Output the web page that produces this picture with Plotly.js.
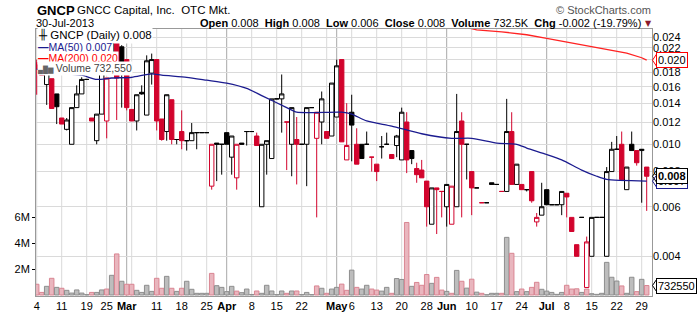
<!DOCTYPE html>
<html><head><meta charset="utf-8">
<script src="https://cdn.plot.ly/plotly-3.0.1.min.js"></script>
<style>html,body{margin:0;padding:0;background:#fff}#chart{width:700px;height:312px}</style>
</head><body><div id="chart"></div>
<script>
const dates = [
'2013-02-04','2013-02-05','2013-02-06','2013-02-07','2013-02-08','2013-02-11','2013-02-12','2013-02-13','2013-02-14','2013-02-15',
'2013-02-19','2013-02-20','2013-02-21','2013-02-22','2013-02-25','2013-02-26','2013-02-27','2013-02-28','2013-03-01','2013-03-04',
'2013-03-05','2013-03-06','2013-03-07','2013-03-08','2013-03-11','2013-03-12','2013-03-13','2013-03-14','2013-03-15','2013-03-18',
'2013-03-19','2013-03-20','2013-03-21','2013-03-22','2013-03-25','2013-03-26','2013-03-27','2013-03-28','2013-04-01','2013-04-02',
'2013-04-03','2013-04-04','2013-04-05','2013-04-08','2013-04-09','2013-04-10','2013-04-11','2013-04-12','2013-04-15','2013-04-16',
'2013-04-17','2013-04-18','2013-04-19','2013-04-22','2013-04-23','2013-04-24','2013-04-25','2013-04-26','2013-04-29','2013-04-30',
'2013-05-01','2013-05-02','2013-05-03','2013-05-06','2013-05-07','2013-05-08','2013-05-09','2013-05-10','2013-05-13','2013-05-14',
'2013-05-15','2013-05-16','2013-05-17','2013-05-20','2013-05-21','2013-05-22','2013-05-23','2013-05-24','2013-05-28','2013-05-29',
'2013-05-30','2013-05-31','2013-06-03','2013-06-04','2013-06-05','2013-06-06','2013-06-07','2013-06-10','2013-06-11','2013-06-12',
'2013-06-13','2013-06-14','2013-06-17','2013-06-18','2013-06-19','2013-06-20','2013-06-21','2013-06-24','2013-06-25','2013-06-26',
'2013-06-27','2013-06-28','2013-07-01','2013-07-02','2013-07-03','2013-07-05','2013-07-08','2013-07-09','2013-07-10','2013-07-11',
'2013-07-12','2013-07-15','2013-07-16','2013-07-17','2013-07-18','2013-07-19','2013-07-22','2013-07-23','2013-07-24','2013-07-25',
'2013-07-26','2013-07-29','2013-07-30'];

const priorClose = 0.0200;

const open = [
0.0195,0.0184,0.0163,0.0171,0.0151,0.0124,0.0113,0.0100,0.0135,0.0151,
0.0170,0.0124,0.0103,0.0128,0.0121,0.0204,0.0229,0.0222,0.0200,0.0133,
0.0121,0.0153,0.0127,0.0179,0.0200,0.0123,0.0111,0.0144,0.0104,0.0111,
0.0103,0.0103,0.0110,0.0110,0.0110,0.0071,0.0101,0.0100,0.0110,0.0090,
0.0076,0.0101,0.0111,0.0111,0.0107,0.0060,0.0100,0.0089,0.0145,0.0145,
0.0120,0.0100,0.0104,0.0100,0.0100,0.0135,0.0105,0.0120,0.0111,0.0107,
0.0125,0.0200,0.0088,0.0130,0.0100,0.0100,0.0100,0.0090,0.0085,0.0098,
0.0100,0.0092,0.0099,0.0088,0.0120,0.0095,0.0082,0.0081,0.0074,0.0052,
0.0070,0.0068,0.0060,0.0052,0.0060,0.0121,0.0100,0.0080,0.0070,0.0062,
0.0062,0.0073,0.0072,0.0068,0.0068,0.0111,0.0072,0.0072,0.0069,0.0080,
0.0053,0.0056,0.0069,0.0061,0.0061,0.0061,0.0067,0.0055,0.0044,0.0055,
0.0031,0.0040,0.0055,0.0055,0.0040,0.0080,0.0096,0.0100,0.0069,0.0100,
0.0095,0.0095,0.0083];
const high = [
0.0200,0.0190,0.0182,0.0171,0.0151,0.0124,0.0124,0.0135,0.0162,0.0173,
0.0170,0.0124,0.0128,0.0232,0.0172,0.0235,0.0229,0.0225,0.0200,0.0133,
0.0150,0.0162,0.0207,0.0210,0.0200,0.0123,0.0150,0.0144,0.0104,0.0132,
0.0103,0.0119,0.0110,0.0110,0.0110,0.0100,0.0101,0.0100,0.0110,0.0107,
0.0100,0.0101,0.0111,0.0111,0.0110,0.0100,0.0103,0.0145,0.0145,0.0177,
0.0120,0.0135,0.0125,0.0100,0.0135,0.0135,0.0130,0.0154,0.0111,0.0165,
0.0200,0.0200,0.0140,0.0150,0.0114,0.0100,0.0111,0.0090,0.0085,0.0107,
0.0110,0.0092,0.0108,0.0135,0.0130,0.0095,0.0086,0.0088,0.0074,0.0070,
0.0070,0.0068,0.0072,0.0071,0.0151,0.0130,0.0100,0.0080,0.0070,0.0062,
0.0062,0.0073,0.0072,0.0068,0.0145,0.0130,0.0085,0.0072,0.0069,0.0080,
0.0057,0.0073,0.0069,0.0061,0.0061,0.0068,0.0067,0.0055,0.0044,0.0055,
0.0047,0.0055,0.0055,0.0055,0.0083,0.0102,0.0107,0.0111,0.0083,0.0111,
0.0095,0.0096,0.0083];
const low = [
0.0150,0.0176,0.0138,0.0134,0.0118,0.0118,0.0112,0.0100,0.0135,0.0151,
0.0170,0.0121,0.0100,0.0128,0.0105,0.0200,0.0122,0.0135,0.0132,0.0121,
0.0112,0.0150,0.0127,0.0163,0.0112,0.0103,0.0103,0.0100,0.0100,0.0096,
0.0095,0.0103,0.0096,0.0110,0.0110,0.0069,0.0074,0.0078,0.0100,0.0078,
0.0069,0.0100,0.0099,0.0111,0.0099,0.0060,0.0078,0.0089,0.0145,0.0110,
0.0081,0.0077,0.0072,0.0100,0.0071,0.0135,0.0055,0.0100,0.0105,0.0107,
0.0125,0.0102,0.0088,0.0087,0.0085,0.0089,0.0100,0.0080,0.0074,0.0089,
0.0100,0.0089,0.0090,0.0088,0.0079,0.0085,0.0073,0.0076,0.0051,0.0052,
0.0048,0.0055,0.0051,0.0052,0.0060,0.0055,0.0075,0.0056,0.0070,0.0062,
0.0062,0.0072,0.0072,0.0068,0.0068,0.0072,0.0072,0.0069,0.0068,0.0062,
0.0051,0.0056,0.0061,0.0061,0.0061,0.0056,0.0055,0.0049,0.0040,0.0055,
0.0031,0.0040,0.0055,0.0055,0.0040,0.0080,0.0096,0.0075,0.0069,0.0095,
0.0084,0.0062,0.0058];
const close = [
0.0185,0.0176,0.0179,0.0134,0.0136,0.0118,0.0122,0.0135,0.0151,0.0170,
0.0170,0.0121,0.0128,0.0229,0.0172,0.0231,0.0172,0.0196,0.0135,0.0121,
0.0150,0.0151,0.0198,0.0200,0.0121,0.0104,0.0150,0.0104,0.0104,0.0103,
0.0103,0.0110,0.0110,0.0110,0.0110,0.0100,0.0100,0.0100,0.0100,0.0107,
0.0100,0.0100,0.0111,0.0111,0.0099,0.0100,0.0103,0.0145,0.0145,0.0151,
0.0120,0.0135,0.0100,0.0100,0.0135,0.0135,0.0130,0.0145,0.0105,0.0165,
0.0190,0.0102,0.0099,0.0117,0.0085,0.0089,0.0100,0.0090,0.0080,0.0098,
0.0100,0.0089,0.0107,0.0130,0.0088,0.0089,0.0078,0.0076,0.0060,0.0070,
0.0069,0.0068,0.0072,0.0071,0.0111,0.0100,0.0100,0.0070,0.0070,0.0062,
0.0062,0.0072,0.0072,0.0068,0.0111,0.0072,0.0085,0.0069,0.0069,0.0063,
0.0055,0.0060,0.0061,0.0061,0.0061,0.0068,0.0065,0.0049,0.0040,0.0055,
0.0045,0.0055,0.0055,0.0055,0.0080,0.0096,0.0096,0.0075,0.0083,0.0095,
0.0086,0.0096,0.0077];
const volume = [
830000,200000,670000,1290000,590000,520000,360000,150000,390000,150000,
30000,200000,200000,390000,460000,1520000,3170000,1060000,830000,830000,
360000,200000,750000,280000,1290000,520000,1440000,520000,280000,520000,
1060000,440000,130000,130000,130000,1670000,720000,590000,260000,670000,
300000,180000,460000,40000,310000,130000,750000,310000,30000,310000,
130000,310000,310000,30000,200000,30000,700000,520000,130000,460000,
590000,840000,360000,1920000,590000,460000,750000,460000,380000,300000,
590000,130000,1270000,1200000,5600000,670000,970000,750000,1580000,900000,
1360000,380000,280000,130000,1900000,1060000,530000,1220000,220000,130000,
20000,130000,130000,130000,4450000,3220000,260000,460000,260000,590000,
980000,440000,300000,200000,50000,200000,750000,460000,480000,200000,
460000,100000,50000,130000,2520000,1370000,1080000,700000,130000,1370000,
260000,1210000,732550];

const ma50Dates = ['2013-02-04','2013-02-07','2013-02-12','2013-02-15','2013-02-21','2013-02-26','2013-03-04','2013-03-08',
'2013-03-12','2013-03-19','2013-03-25','2013-04-01','2013-04-05','2013-04-10','2013-04-17','2013-04-19','2013-05-02',
'2013-05-06','2013-05-09','2013-05-16','2013-05-24','2013-06-04','2013-06-10','2013-06-17','2013-06-21','2013-06-25',
'2013-07-01','2013-07-05','2013-07-11','2013-07-16','2013-07-18','2013-07-30'];
const ma50 = [0.0185,0.0181,0.0178,0.0176,0.0170,0.0172,0.0173,0.0178,0.0176,0.0173,0.0169,0.0165,0.0158,0.0149,0.0135,0.0130,
0.0130,0.0128,0.0121,0.0116,0.0109,0.0105,0.0105,0.0101,0.0100,0.0097,0.0092,0.0088,0.0081,0.0077,0.0075,0.0074];

const ma200Dates = ['2013-06-07','2013-06-11','2013-06-18','2013-06-25','2013-07-01','2013-07-08','2013-07-16','2013-07-24','2013-07-29','2013-07-30'];
const ma200 = [0.0260,0.0255,0.0251,0.0245,0.0238,0.0231,0.0222,0.0211,0.0203,0.0199];

const tickDates = ['2013-02-04','2013-02-11','2013-02-19','2013-02-25','2013-03-01','2013-03-11','2013-03-18','2013-03-25',
'2013-04-01','2013-04-08','2013-04-15','2013-04-22','2013-05-01','2013-05-06','2013-05-13','2013-05-20','2013-05-28',
'2013-06-03','2013-06-10','2013-06-17','2013-06-24','2013-07-01','2013-07-08','2013-07-15','2013-07-22','2013-07-29'];
const tickText = ['4','11','19','25','Mar','11','18','25','Apr','8','15','22','May','6','13','20','28','Jun','10','17','24','Jul','8','15','22','29'];
const priceTicks = [0.004,0.006,0.008,0.010,0.012,0.014,0.016,0.018,0.020,0.022,0.024];
const volTicks = [2000000,4000000,6000000];
const volTickText = ['2M','4M','6M'];

// ---------- drawing ----------
const FONT = 'Liberation Sans, Arial, sans-serif';
const RED = '#D2042D';
const L = 36, R = 652, T = 29, B = 296;
const px = x => (x - L) / (R - L);
const py = y => (B - y) / (B - T);
const PR = [Math.log10(0.002891), Math.log10(0.02568)];
const VR = [-77000, 20540000];
const pyPrice = p => (Math.log10(p) - PR[0]) / (PR[1] - PR[0]);
const pyVol = v => (v - VR[0]) / (VR[1] - VR[0]);
const dyPx = 1 / (B - T);

const idxOf = d => dates.indexOf(d);
const xs = dates.map((d, i) => i);
const up = close.map((c, i) => c >= (i === 0 ? priorClose : close[i - 1]));

function candle(cond, col) {
  const ids = xs.filter(i => cond(i));
  return {
    type: 'candlestick', xaxis: 'x', yaxis: 'y2',
    x: ids, open: ids.map(i => open[i]), high: ids.map(i => high[i]),
    low: ids.map(i => low[i]), close: ids.map(i => close[i]),
    increasing: {line: {color: col, width: 1}, fillcolor: '#ffffff'},
    decreasing: {line: {color: col, width: 1}, fillcolor: col},
    whiskerwidth: 0, hoverinfo: 'skip', showlegend: false
  };
}

const volTrace = {
  type: 'bar', x: xs, y: volume, yaxis: 'y', xaxis: 'x',
  marker: {color: up.map(u => u ? 'rgba(185,185,185,0.95)' : 'rgba(232,178,186,0.95)'),
           line: {color: up.map(u => u ? '#8e8e8e' : '#d98592'), width: 1}},
  hoverinfo: 'skip', showlegend: false
};

const ma50Trace = {type: 'scatter', mode: 'lines', x: ma50Dates.map(idxOf), y: ma50, yaxis: 'y2',
  line: {color: '#1b1b8f', width: 1.3, shape: 'spline', smoothing: 0.6}, hoverinfo: 'skip', showlegend: false};
const ma200Trace = {type: 'scatter', mode: 'lines', x: ma200Dates.map(idxOf), y: ma200, yaxis: 'y2',
  line: {color: '#ff2222', width: 1.3}, hoverinfo: 'skip', showlegend: false};

// grid lines: weekly (first trading day of each week) and month starts
const shapes = [];
dates.forEach((d, i) => {
  const dt = new Date(d + 'T00:00:00Z');
  const prev = i > 0 ? new Date(dates[i - 1] + 'T00:00:00Z') : null;
  const newWeek = !prev || dt.getUTCDay() < prev.getUTCDay() || (dt - prev) > 4 * 86400000;
  const newMonth = !prev || dt.getUTCMonth() !== prev.getUTCMonth();
  if (newMonth && i > 0) {
    shapes.push({type: 'line', xref: 'x', yref: 'paper', x0: i, x1: i, y0: 0, y1: 1, layer: 'below', line: {color: '#a8a8a8', width: 1}});
  } else if (newWeek) {
    shapes.push({type: 'line', xref: 'x', yref: 'paper', x0: i, x1: i, y0: 0, y1: 1, layer: 'below', line: {color: '#d9d9d9', width: 1}});
  }
});

const last = close.length - 1;
const chg = close[last] - close[last - 1];
const pct = chg / close[last - 1] * 100;
const f3 = v => v.toFixed(3);
const lastMA50 = ma50[ma50.length - 1], lastMA200 = ma200[ma200.length - 1];

// chevron pointers on the right-hand value boxes
function chevron(yPaper, col) {
  const xa = px(656.5), xb = px(652.5), h = 6 * dyPx;
  shapes.push({type: 'path', xref: 'paper', yref: 'paper', layer: 'above',
    path: 'M' + xa + ',' + (yPaper + h) + ' L' + xb + ',' + yPaper + ' L' + xa + ',' + (yPaper - h),
    line: {color: col, width: 1}});
}
chevron(pyPrice(lastMA200), '#ff0000');
chevron(pyPrice(lastMA50), '#1b1b8f');
chevron(pyPrice(close[last]), '#000');
chevron(pyVol(volume[last]), '#000');

// the MA(200) box sits on top of its own tick value, so that tick shows only through the box
const priceTickText = priceTicks.map(v => f3(v) === f3(lastMA200) ? '' : f3(v));

const annotations = [
  {xref: 'paper', yref: 'paper', x: px(35), y: py(10), xanchor: 'left', yanchor: 'middle', showarrow: false,
   text: '<b>GNCP</b>', font: {family: FONT, size: 13, color: '#000'}},
  {xref: 'paper', yref: 'paper', x: px(75), y: py(10.5), xanchor: 'left', yanchor: 'middle', showarrow: false,
   text: 'GNCC Capital, Inc.  OTC Mkt.', font: {family: FONT, size: 11.5, color: '#000'}},
  {xref: 'paper', yref: 'paper', x: px(34), y: py(23), xanchor: 'left', yanchor: 'middle', showarrow: false,
   text: '30-Jul-2013', font: {family: FONT, size: 11, color: '#000'}},
  {xref: 'paper', yref: 'paper', x: px(643), y: py(23), xanchor: 'right', yanchor: 'middle', showarrow: false,
   text: '<b>Open</b> ' + f3(open[last]) + '  <b>High</b> ' + f3(high[last]) + '  <b>Low</b> ' + f3(low[last]) +
         '  <b>Close</b> ' + f3(close[last]) + '  <b>Volume</b> ' + (volume[last] / 1000).toFixed(1) + 'K  <b>Chg</b> ' +
         f3(chg) + ' (' + pct.toFixed(2) + '%)',
   font: {family: FONT, size: 11, color: '#000'}},
  {xref: 'paper', yref: 'paper', x: px(648), y: py(23.5), xanchor: 'center', yanchor: 'middle', showarrow: false,
   text: '▼', font: {family: 'DejaVu Sans', size: 8, color: '#8b1a2b'}},
  {xref: 'paper', yref: 'paper', x: px(653), y: py(10), xanchor: 'right', yanchor: 'middle', showarrow: false,
   text: '© StockCharts.com', font: {family: FONT, size: 11, color: '#555'}},
  // legend rows
  {xref: 'paper', yref: 'paper', x: px(37), y: py(35.5), xanchor: 'left', yanchor: 'middle', showarrow: false,
   bgcolor: '#ffffff', borderpad: 0, text: '<b>╫</b> GNCP (Daily) ' + f3(close[last]), font: {family: FONT, size: 11.5, color: '#000'}},
  {xref: 'paper', yref: 'paper', x: px(37), y: py(46.5), xanchor: 'left', yanchor: 'middle', showarrow: false,
   bgcolor: '#ffffff', borderpad: 0, text: '<b>—</b>MA(50) ' + f3(lastMA50), font: {family: FONT, size: 10.5, color: '#1b1b8f'}},
  {xref: 'paper', yref: 'paper', x: px(37), y: py(57.5), xanchor: 'left', yanchor: 'middle', showarrow: false,
   bgcolor: '#ffffff', borderpad: 0, text: '<b>—</b>MA(200) ' + f3(lastMA200), font: {family: FONT, size: 10.5, color: '#ff0000'}},
  {xref: 'paper', yref: 'paper', x: px(37), y: py(68.5), xanchor: 'left', yanchor: 'middle', showarrow: false,
   bgcolor: '#ffffff', borderpad: 0,
   text: '<span style="font-size:7px;color:#666">▄█▆</span> Volume ' + volume[last].toLocaleString('en-US'),
   font: {family: FONT, size: 10.5, color: '#444'}},
  // right-side value boxes
  {xref: 'paper', yref: 'y2', x: px(656), y: Math.log10(lastMA200), xanchor: 'left', yanchor: 'middle', showarrow: false,
   bgcolor: '#fff', bordercolor: '#ff0000', borderwidth: 1, borderpad: 1, text: f3(lastMA200),
   font: {family: FONT, size: 11, color: '#000'}},
  {xref: 'paper', yref: 'y2', x: px(656), y: Math.log10(lastMA50), xanchor: 'left', yanchor: 'middle', showarrow: false,
   bgcolor: '#fff', bordercolor: '#1b1b8f', borderwidth: 1, borderpad: 1, text: f3(lastMA50),
   font: {family: FONT, size: 11, color: '#000'}},
  {xref: 'paper', yref: 'y2', x: px(656), y: Math.log10(close[last]), xanchor: 'left', yanchor: 'middle', showarrow: false,
   bgcolor: '#fff', bordercolor: '#000', borderwidth: 1, borderpad: 1, text: '<b>' + f3(close[last]) + '</b>',
   font: {family: FONT, size: 11, color: '#000'}},
  {xref: 'paper', yref: 'y', x: px(656), y: volume[last], xanchor: 'left', yanchor: 'middle', showarrow: false,
   bgcolor: '#fff', bordercolor: '#000', borderwidth: 1, borderpad: 1, text: String(volume[last]),
   font: {family: FONT, size: 11, color: '#000'}}
];

const layout = {
  width: 700, height: 312,
  margin: {l: L, r: 700 - R, t: T, b: 312 - B, pad: 0},
  paper_bgcolor: '#fff', plot_bgcolor: '#fff',
  showlegend: false, boxgap: 0.12, boxgroupgap: 0, bargap: 0.1,
  font: {family: FONT, size: 11, color: '#000'},
  xaxis: {range: [-0.14, 123.06], tickmode: 'array', tickvals: tickDates.map(idxOf),
          ticktext: tickText.map(t => /^\d+$/.test(t) ? t : '<b>' + t + '</b>'),
          tickangle: 0, ticks: '', showgrid: false, zeroline: false, showline: true, linecolor: '#999', mirror: true,
          rangeslider: {visible: false}, tickfont: {family: FONT, size: 11, color: '#000'}, fixedrange: true},
  yaxis: {range: VR, side: 'left', tickmode: 'array', tickvals: volTicks, ticktext: volTickText,
          ticks: 'outside', ticklen: 3, tickcolor: '#000', showgrid: false, zeroline: false, showline: true,
          linecolor: '#999', mirror: true, tickfont: {family: FONT, size: 11, color: '#000'}, fixedrange: true},
  yaxis2: {overlaying: 'y', side: 'right', type: 'log', range: PR,
           tickmode: 'array', tickvals: priceTicks, ticktext: priceTickText, ticks: '',
           showgrid: true, gridcolor: '#dadada', gridwidth: 1, zeroline: false, showline: false,
           tickfont: {family: FONT, size: 11, color: '#000'}, fixedrange: true},
  shapes: shapes,
  annotations: annotations
};

Plotly.newPlot('chart', [volTrace, candle(i => up[i], '#000000'), candle(i => !up[i], RED), ma50Trace, ma200Trace], layout,
  {staticPlot: true, displayModeBar: false});
</script>
</body></html>
